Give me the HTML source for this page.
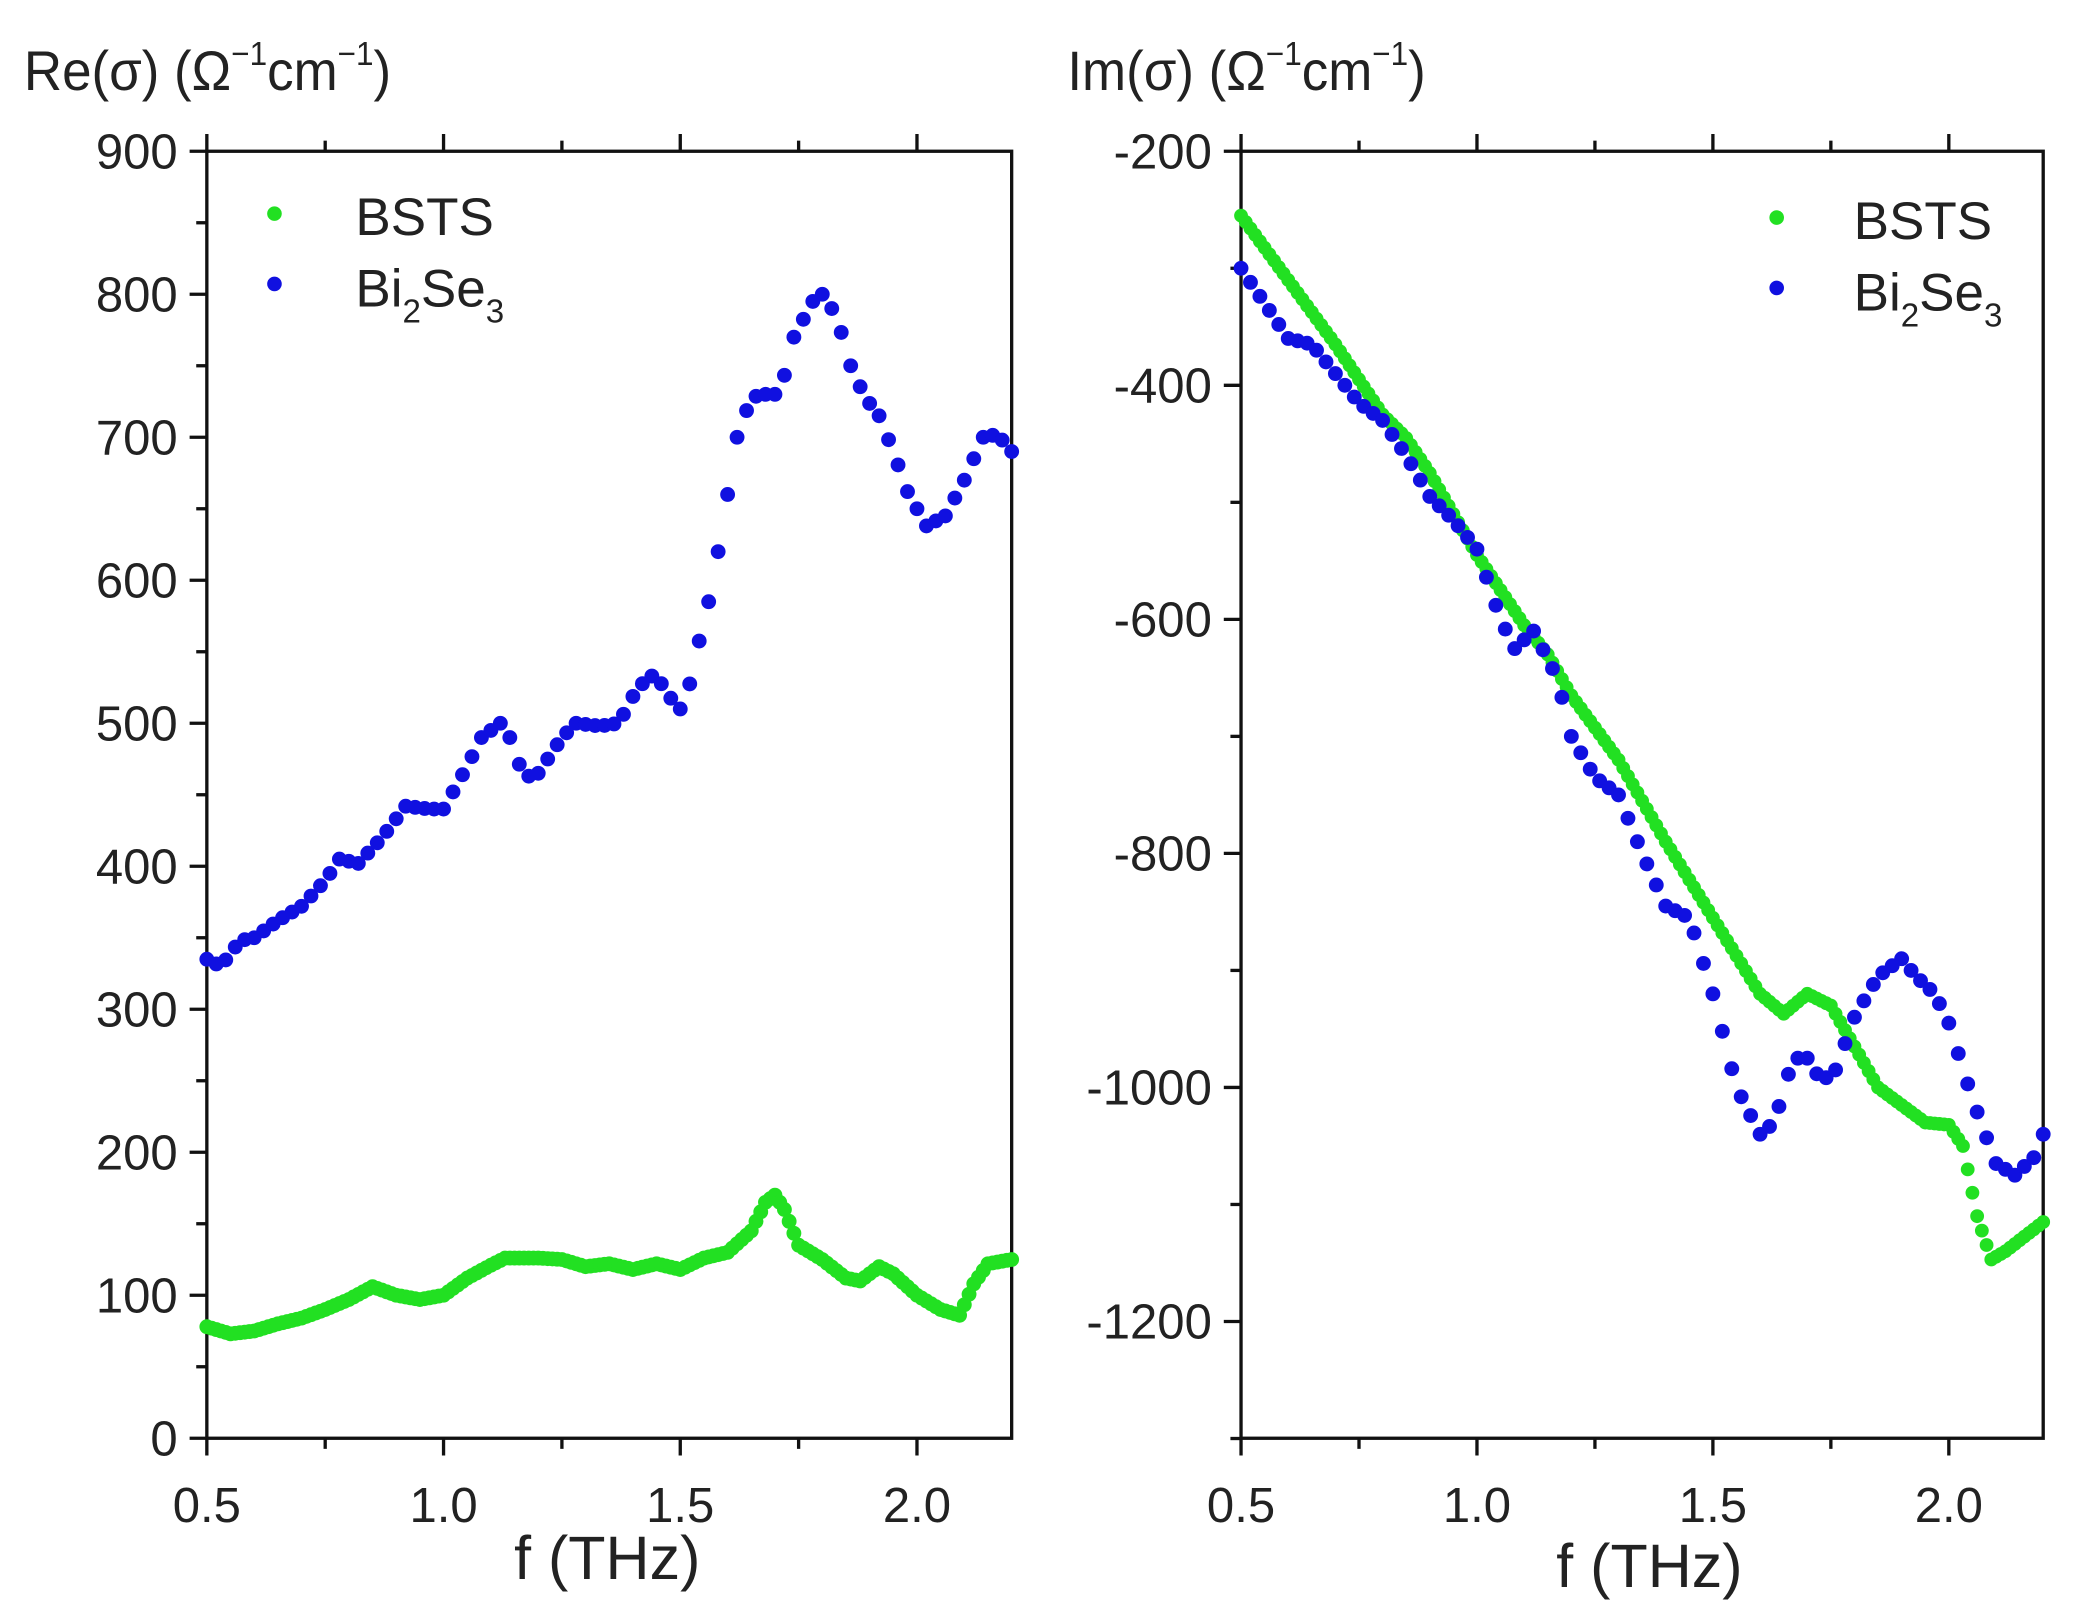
<!DOCTYPE html>
<html><head><meta charset="utf-8"><style>
html,body{margin:0;padding:0;background:#fff;}
svg{display:block;}
text{font-family:"Liberation Sans",sans-serif;fill:#222;}
</style></head><body>
<svg id="s" width="2079" height="1624" viewBox="0 0 1568 1224" preserveAspectRatio="none" xmlns="http://www.w3.org/2000/svg">
<rect width="1568" height="1224" fill="#fff"/>
<g id="g"></g>
<text x="18" y="68" font-size="42" transform="scale(0.95,1)" transform-origin="18 68">Re(σ) (Ω<tspan font-size="25" dy="-19">−1</tspan><tspan dy="19">cm</tspan><tspan font-size="25" dy="-19">−1</tspan><tspan dy="19">)</tspan></text>
<text x="805" y="68" font-size="42" transform="scale(0.95,1)" transform-origin="805 68">Im(σ) (Ω<tspan font-size="25" dy="-19">−1</tspan><tspan dy="19">cm</tspan><tspan font-size="25" dy="-19">−1</tspan><tspan dy="19">)</tspan></text>
<text x="458" y="1190" font-size="46" text-anchor="middle">f (THz)</text>
<text x="1244" y="1196" font-size="46" text-anchor="middle">f (THz)</text>
<circle cx="207" cy="161" r="5.5" fill="#22e022"/>
<text x="268" y="177" font-size="40">BSTS</text>
<circle cx="207" cy="214" r="5.5" fill="#1010e0"/>
<text x="268" y="231" font-size="40">Bi<tspan font-size="25" dy="12">2</tspan><tspan dy="-12">Se</tspan><tspan font-size="25" dy="12">3</tspan></text>
<circle cx="1340" cy="164" r="5.5" fill="#22e022"/>
<text x="1398" y="180" font-size="40">BSTS</text>
<circle cx="1340" cy="217" r="5.5" fill="#1010e0"/>
<text x="1398" y="234" font-size="40">Bi<tspan font-size="25" dy="12">2</tspan><tspan dy="-12">Se</tspan><tspan font-size="25" dy="12">3</tspan></text>
</svg>
<script>
var NS="http://www.w3.org/2000/svg",g=document.getElementById('g');
function el(t,a){var e=document.createElementNS(NS,t);for(var k in a)e.setAttribute(k,a[k]);g.appendChild(e);return e;}
function txt(x,y,s,anc,fs){var e=el('text',{x:x,y:y,'font-size':fs||37,'text-anchor':anc||'middle'});e.textContent=s;}
var L={x0:156,x1:763,y0:114,y1:1084,fx:function(f){return 156+(f-0.5)*607/1.7},fy:function(v){return 1084-v*970/900}};
var R={x0:936,x1:1541,y0:114,y1:1084,fx:function(f){return 936+(f-0.5)*605/1.7},fy:function(v){return 114+(-200-v)*0.882}};
[L,R].forEach(function(P){
 el('rect',{x:P.x0,y:P.y0,width:P.x1-P.x0,height:P.y1-P.y0,fill:'none',stroke:'#111','stroke-width':2.5});
 for(var f=0.5;f<2.21;f+=0.25){var x=P.fx(f),maj=Math.abs(f*2-Math.round(f*2))<1e-6,l=maj?13:8;
  el('line',{x1:x,y1:P.y1,x2:x,y2:P.y1+l,stroke:'#111','stroke-width':2.5});
  el('line',{x1:x,y1:P.y0,x2:x,y2:P.y0-l,stroke:'#111','stroke-width':2.5});
  if(maj)txt(x,P.y1+63,f.toFixed(1));}
});
for(var v=0;v<=900;v+=50){var y=L.fy(v),maj=v%100==0;el('line',{x1:L.x0,y1:y,x2:L.x0-(maj?13:8),y2:y,stroke:'#111','stroke-width':2.5});if(maj)txt(L.x0-22,y+13,v,'end');}
for(var v=-200;v>=-1300;v-=100){var y=R.fy(v),maj=v%200==0;el('line',{x1:R.x0,y1:y,x2:R.x0-(maj?13:8),y2:y,stroke:'#111','stroke-width':2.5});if(maj)txt(R.x0-22,y+13,v,'end');}
function interp(k,f){for(var i=0;i<k.length-1;i++){if(f<=k[i+1][0]){var t=(f-k[i][0])/(k[i+1][0]-k[i][0]);return k[i][1]+t*(k[i+1][1]-k[i][1]);}}return k[k.length-1][1];}
function series(P,k,step,col,r){for(var f=0.5;f<=2.2001;f+=step){el('circle',{cx:P.fx(f),cy:P.fy(interp(k,f)),r:r,fill:col});}}
var BL=[[0.5,335],[0.53,330],[0.57,348],[0.6,350],[0.65,362],[0.7,372],[0.75,390],[0.78,405],[0.82,402],[0.87,420],[0.92,442],[0.97,440],[1.0,440],[1.05,470],[1.08,490],[1.12,500],[1.14,490],[1.17,462],[1.2,465],[1.25,490],[1.28,500],[1.33,498],[1.37,500],[1.41,525],[1.44,533],[1.47,525],[1.49,510],[1.51,510],[1.53,545],[1.55,570],[1.57,600],[1.59,640],[1.62,700],[1.65,728],[1.68,730],[1.71,730],[1.74,770],[1.78,795],[1.80,800],[1.83,785],[1.86,750],[1.89,728],[1.92,715],[1.95,690],[1.98,662],[2.02,638],[2.06,645],[2.1,670],[2.14,700],[2.17,702],[2.2,690],[2.21,680]];
var GL=[[0.5,78],[0.55,73],[0.6,75],[0.65,80],[0.7,84],[0.75,90],[0.8,97],[0.85,106],[0.9,100],[0.95,97],[1.0,100],[1.05,112],[1.1,121],[1.13,126],[1.2,126],[1.25,125],[1.3,120],[1.35,122],[1.4,118],[1.45,122],[1.5,118],[1.55,126],[1.6,130],[1.65,145],[1.68,165],[1.7,170],[1.72,160],[1.75,135],[1.8,125],[1.85,112],[1.88,110],[1.92,120],[1.95,115],[2.0,100],[2.05,90],[2.09,86],[2.12,108],[2.15,122],[2.2,125]];
var GR=[[0.5,-255],[0.6,-310],[0.7,-365],[0.8,-425],[0.85,-445],[0.9,-475],[1.0,-545],[1.1,-605],[1.15,-630],[1.2,-665],[1.3,-720],[1.4,-790],[1.5,-855],[1.6,-920],[1.65,-937],[1.7,-920],[1.75,-930],[1.8,-965],[1.85,-1000],[1.9,-1015],[1.95,-1030],[2.0,-1032],[2.03,-1050],[2.06,-1110],[2.09,-1147],[2.12,-1140],[2.2,-1115]];
var BR=[[0.5,-300],[0.55,-330],[0.6,-360],[0.65,-365],[0.7,-390],[0.75,-415],[0.8,-430],[0.85,-460],[0.9,-495],[0.95,-515],[1.0,-540],[1.05,-600],[1.08,-625],[1.12,-610],[1.17,-650],[1.2,-700],[1.25,-735],[1.3,-750],[1.35,-800],[1.4,-845],[1.45,-855],[1.5,-920],[1.55,-1000],[1.6,-1040],[1.63,-1030],[1.67,-975],[1.7,-975],[1.73,-995],[1.76,-985],[1.8,-940],[1.85,-905],[1.9,-890],[1.93,-905],[1.97,-920],[2.0,-945],[2.05,-1010],[2.1,-1065],[2.14,-1075],[2.18,-1060],[2.2,-1040]];
series(L,BL,0.02,'#1010e0',5.6);series(L,GL,0.01,'#22e022',5.6);
series(R,GR,0.01,'#22e022',5.2);series(R,BR,0.02,'#1010e0',5.6);
</script>
</body></html>
